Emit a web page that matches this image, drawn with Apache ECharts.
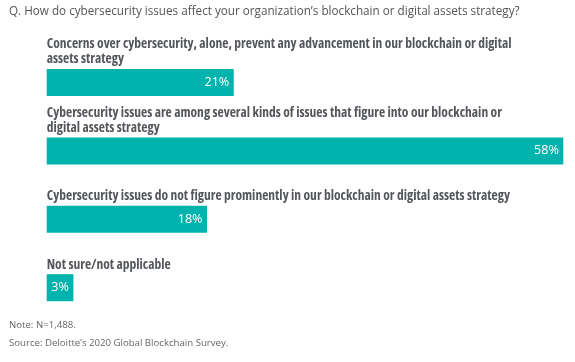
<!DOCTYPE html>
<html>
<head>
<meta charset="utf-8">
<script src="https://cdn.jsdelivr.net/npm/echarts@6/dist/echarts.min.js"></script>
<style>html,body{margin:0;padding:0;background:#fff}#c{width:575px;height:362px}</style>
</head>
<body>
<div id="c"></div>
<script>
const categories = [
  "Concerns over cybersecurity, alone, prevent any advancement in our blockchain or digital\nassets strategy",
  "Cybersecurity issues are among several kinds of issues that figure into our blockchain or\ndigital assets strategy",
  "Cybersecurity issues do not figure prominently in our blockchain or digital assets strategy",
  "Not sure/not applicable"
];
const values = [21, 58, 18, 3];
const titleText = "Q. How do cybersecurity issues affect your organization\u2019s blockchain or digital assets strategy?";
const noteText = "Note: N=1,488.";
const sourceText = "Source: Deloitte\u2019s 2020 Global Blockchain Survey.";

const chart = echarts.init(document.getElementById('c'), null, {renderer: 'canvas'});
const teal = '#00B3AC';
chart.setOption({
  animation: false,
  title: {
    text: titleText,
    left: 9, top: 6, padding: 0,
    textStyle: {fontFamily: 'Open Sans', fontSize: 11.7, fontWeight: 'normal', color: '#555'}
  },
  grid: {left: 46.7, right: 11.7, top: 48.3, bottom: 40.1, containLabel: false},
  xAxis: {type: 'value', min: 0, max: 58, show: false},
  yAxis: {type: 'category', data: categories, inverse: true, show: false},
  series: [
    {
      type: 'bar', data: values, barWidth: 27, z: 2,
      itemStyle: {color: teal},
      label: {
        show: true, position: 'insideRight', distance: 4.5,
        formatter: p => p.value + '%',
        color: '#fff', fontFamily: 'Open Sans', fontSize: 12.6
      }
    },
    {
      type: 'bar', data: values, barWidth: 27, barGap: '-100%', z: 3,
      itemStyle: {color: 'rgba(0,0,0,0)'},
      label: {
        show: true, position: [0, -2], align: 'left', verticalAlign: 'bottom',
        formatter: p => categories[p.dataIndex],
        color: '#53565A', fontFamily: 'Open Sans', fontStyle: 'condensed', fontWeight: 'bold',
        fontSize: 13.5, lineHeight: 15
      }
    }
  ],
  graphic: [
    {type: 'text', x: 9, y: 325.5, style: {text: noteText, fontFamily: 'Open Sans', fontSize: 9.65, fill: '#666', verticalAlign: 'middle'}},
    {type: 'text', x: 9, y: 343.5, style: {text: sourceText, fontFamily: 'Open Sans', fontSize: 9.65, fill: '#666', verticalAlign: 'middle'}}
  ]
});
</script>
</body>
</html>
